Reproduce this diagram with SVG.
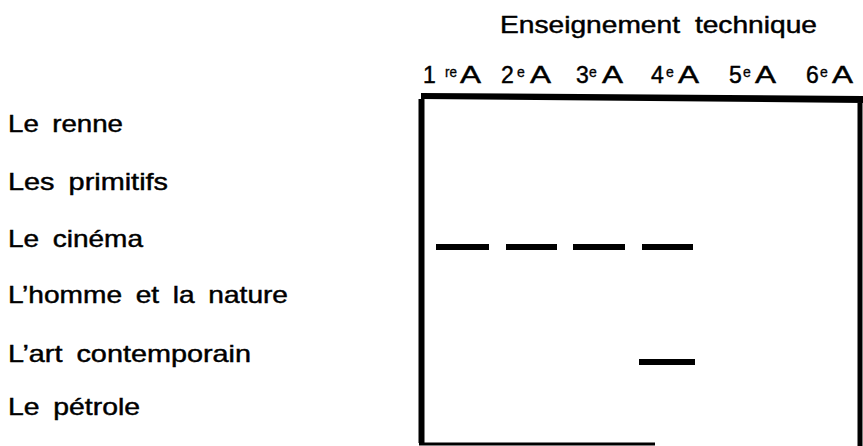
<svg xmlns="http://www.w3.org/2000/svg" width="863" height="446" viewBox="0 0 863 446">
  <style>
    text { font-family: "Liberation Sans", Arial, sans-serif; fill: #000; stroke: #000; stroke-width: 0.45px; }
    .lbl { font-size: 24px; word-spacing: 5px; }
    .hd { font-size: 24px; word-spacing: 6px; }
    .col { font-size: 23px; }
    .sup { font-size: 14px; stroke-width: 0.3px; }
    .frame { stroke: #000; fill: none; stroke-linecap: butt; }
    .bar { fill: #000; }
  </style>
  <rect width="863" height="446" fill="#fff"/>

  <g id="title">
    <text class="hd" x="500" y="33" textLength="317" lengthAdjust="spacingAndGlyphs">Enseignement technique</text>
  </g>

  <g id="columns">
    <g id="col1"><text class="col" x="423" y="83">1</text><text class="sup" x="445" y="77" textLength="12" lengthAdjust="spacingAndGlyphs">re</text><text class="col" x="460" y="83" textLength="21" lengthAdjust="spacingAndGlyphs">A</text></g>
    <g id="col2"><text class="col" x="501" y="83">2</text><text class="sup" x="517" y="77">e</text><text class="col" x="530" y="83" textLength="21" lengthAdjust="spacingAndGlyphs">A</text></g>
    <g id="col3"><text class="col" x="576" y="83">3</text><text class="sup" x="589" y="77">e</text><text class="col" x="602" y="83" textLength="21" lengthAdjust="spacingAndGlyphs">A</text></g>
    <g id="col4"><text class="col" x="651" y="83">4</text><text class="sup" x="666" y="77">e</text><text class="col" x="678" y="83" textLength="21" lengthAdjust="spacingAndGlyphs">A</text></g>
    <g id="col5"><text class="col" x="729" y="83">5</text><text class="sup" x="743" y="77">e</text><text class="col" x="755" y="83" textLength="21" lengthAdjust="spacingAndGlyphs">A</text></g>
    <g id="col6"><text class="col" x="806" y="83">6</text><text class="sup" x="820" y="77">e</text><text class="col" x="832" y="83" textLength="21" lengthAdjust="spacingAndGlyphs">A</text></g>
  </g>

  <g id="rows">
    <g id="row-renne"><text class="lbl" x="8" y="132" textLength="115" lengthAdjust="spacingAndGlyphs">Le renne</text></g>
    <g id="row-primitifs"><text class="lbl" x="8" y="190" textLength="160" lengthAdjust="spacingAndGlyphs">Les primitifs</text></g>
    <g id="row-cinema"><text class="lbl" x="8" y="247" textLength="135" lengthAdjust="spacingAndGlyphs">Le cinéma</text></g>
    <g id="row-homme"><text class="lbl" x="8" y="303" textLength="280" lengthAdjust="spacingAndGlyphs">L’homme et la nature</text></g>
    <g id="row-art"><text class="lbl" x="8" y="362" textLength="243" lengthAdjust="spacingAndGlyphs">L’art contemporain</text></g>
    <g id="row-petrole"><text class="lbl" x="8" y="415" textLength="132" lengthAdjust="spacingAndGlyphs">Le pétrole</text></g>
  </g>

  <g id="frame">
    <polygon points="421,93 863,96 863,103 421,99" fill="#000"/>
    <line class="frame" x1="421.5" y1="99" x2="421.5" y2="443" stroke-width="6"/>
    <line class="frame" x1="860" y1="103" x2="860" y2="446" stroke-width="5"/>
    <line class="frame" x1="419" y1="444" x2="655" y2="444" stroke-width="3"/>
  </g>

  <g id="connectors">
    <rect class="bar" x="436" y="244" width="53" height="6"/>
    <rect class="bar" x="506" y="244" width="51" height="6"/>
    <rect class="bar" x="573" y="244" width="52" height="6"/>
    <rect class="bar" x="642" y="244" width="51" height="6"/>
    <rect class="bar" x="639" y="359" width="56" height="6"/>
  </g>
</svg>
